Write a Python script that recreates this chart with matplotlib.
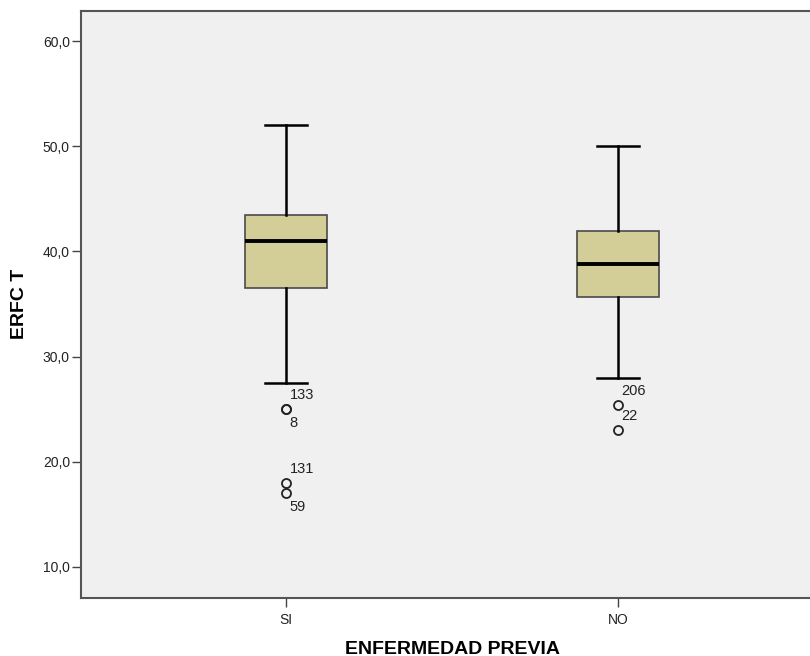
import matplotlib
matplotlib.use("Agg")
import matplotlib.pyplot as plt

plt.rcParams['font.family'] = ['Liberation Sans', 'DejaVu Sans']

categories = ["SI", "NO"]
whisker_low = [27.5, 28.0]
q1 = [36.5, 35.7]
median = [41.0, 38.8]
q3 = [43.5, 41.9]
whisker_high = [52.0, 50.0]
outliers = [[25.0, 25.0, 18.0, 17.0], [25.4, 23.0]]
outlier_labels = [["133", "8", "131", "59"], ["206", "22"]]
# label placement: 'above' or 'below' the marker
outlier_label_pos = [["above", "below", "above", "below"], ["above", "above"]]

yticks = [10, 20, 30, 40, 50, 60]

fig = plt.figure(figsize=(8.10, 6.56), dpi=100)
ax = fig.add_axes([81/810, 1 - 598/656, (810 - 81)/810, (598 - 10.5)/656])
ax.set_facecolor('#f0f0f0')

stats = []
for i in range(len(categories)):
    stats.append(dict(med=median[i], q1=q1[i], q3=q3[i],
                      whislo=whisker_low[i], whishi=whisker_high[i],
                      fliers=outliers[i], label=categories[i]))

ax.bxp(stats, positions=range(len(categories)), widths=0.247,
       patch_artist=True,
       boxprops=dict(facecolor='#d3ce98', edgecolor='#4a4a4a', linewidth=1.2),
       medianprops=dict(color='black', linewidth=2.8),
       whiskerprops=dict(color='black', linewidth=1.8),
       capprops=dict(color='black', linewidth=1.8),
       capwidths=0.125,
       flierprops=dict(marker='o', markerfacecolor='none', markeredgecolor='#222222',
                       markersize=6.5, markeredgewidth=1.3))

for i in range(len(categories)):
    for val, lab, pos in zip(outliers[i], outlier_labels[i], outlier_label_pos[i]):
        dy = 10 if pos == 'above' else -10
        ax.annotate(lab, xy=(i, val), xytext=(2.5, dy), textcoords='offset points',
                    ha='left', va='center', fontsize=10.5, color='#222222')

ax.set_xlim(-0.617, 1.578)
ax.set_ylim(7.05, 62.9)
ax.set_yticks(yticks)
ax.set_yticklabels([f"{v:.1f}".replace('.', ',') for v in yticks], fontsize=10, color='#222222')
ax.set_xticks(range(len(categories)))
ax.set_xticklabels(categories, fontsize=10, color='#222222')
ax.tick_params(axis='both', length=6.5, width=1, color='#444444')
ax.tick_params(axis='y', pad=1.5)
ax.tick_params(axis='x', pad=4)

for s in ['left', 'bottom', 'top']:
    ax.spines[s].set_color('#555555')
    ax.spines[s].set_linewidth(1.5)
ax.spines['right'].set_visible(False)

ax.set_xlabel("ENFERMEDAD PREVIA", fontsize=14, fontweight='bold')
ax.xaxis.set_label_coords((452 - 81) / 729, -(649 - 598) / 587.5)
ax.xaxis.label.set_verticalalignment('center')
ax.set_ylabel("ERFC T", fontsize=14, fontweight='bold')
ax.yaxis.set_label_coords(-(81 - 20) / 729, 0.5)
ax.yaxis.label.set_verticalalignment('center')

fig.savefig("out.png", dpi=100, facecolor='white')
